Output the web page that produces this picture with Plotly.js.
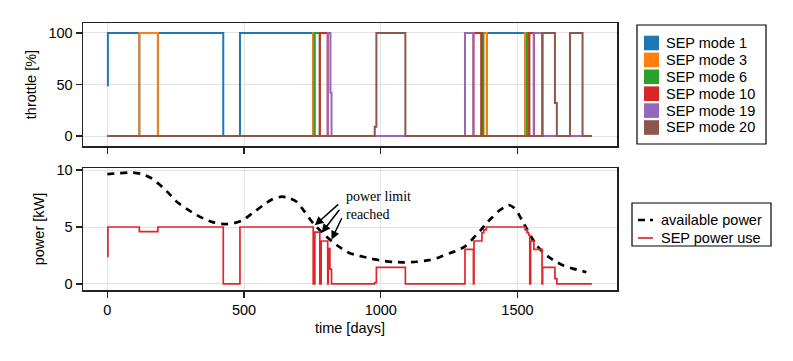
<!DOCTYPE html>
<html>
<head>
<meta charset="utf-8">
<script src="https://cdn.plot.ly/plotly-3.0.1.min.js"></script>
<style>html,body{margin:0;padding:0;background:#fff;}#chart{width:793px;height:361px;}</style>
</head>
<body>
<div id="chart"></div>
<script>
// ---- data ----
const modeNames = ["SEP mode 1", "SEP mode 3", "SEP mode 6", "SEP mode 10", "SEP mode 19", "SEP mode 20"];
const modeColors = ["#1f77b4", "#ff7f0e", "#2ca02c", "#d62728", "#9467bd", "#8c564b"];

const mode1Days = [0, 2, 117, 185, 424, 485, 753, 1388, 1528, 1772];
const mode1Thr  = [49, 100, 0, 100, 0, 100, 0, 100, 0, 0];
const mode3Days = [0, 117, 185, 753, 758, 1375, 1388, 1528, 1535, 1772];
const mode3Thr  = [0, 100, 0, 100, 0, 100, 0, 100, 0, 0];
const mode6Days = [0, 758, 777, 1368, 1375, 1535, 1543, 1772];
const mode6Thr  = [0, 100, 0, 100, 0, 100, 0, 0];
const mode10Days = [0, 777, 806, 1339, 1368, 1543, 1560, 1772];
const mode10Thr  = [0, 100, 0, 100, 0, 100, 0, 0];
const mode19Days = [0, 806, 816, 820, 1308, 1339, 1560, 1590, 1772];
const mode19Thr  = [0, 100, 42, 0, 100, 0, 100, 0, 0];
const mode20Days = [0, 978, 984, 1090, 1592, 1637, 1644, 1692, 1738, 1772];
const mode20Thr  = [0, 9, 100, 0, 100, 32, 0, 100, 0, 0];

const powerDays = [0, 2, 117, 185, 424, 485, 753, 759, 777, 782, 806, 808, 814, 820, 978, 984, 1090, 1308, 1339, 1341, 1370, 1377, 1386, 1528, 1535, 1541, 1545, 1548, 1560, 1590, 1592, 1637, 1644, 1772];
const powerKW   = [2.4, 5.0, 4.6, 5.0, 0, 5.0, 0, 4.55, 0, 3.77, 0, 3.1, 1.3, 0, 0.13, 1.46, 0, 3.04, 0, 3.77, 4.5, 4.75, 5.0, 4.75, 4.5, 4.3, 0, 3.77, 3.04, 0, 1.46, 0.47, 0, 0];

const availDays = [0, 40, 90, 127, 160, 193, 225, 254, 290, 327, 360, 388, 410, 437, 470, 497, 530, 571, 605, 637, 665, 692, 720, 753, 795, 838, 887, 911, 960, 1008, 1045, 1081, 1130, 1179, 1215, 1252, 1280, 1307, 1330, 1349, 1368, 1386, 1408, 1428, 1450, 1468, 1489, 1505, 1519, 1535, 1550, 1570, 1592, 1615, 1641, 1670, 1702, 1730, 1752];
const availKW   = [9.65, 9.72, 9.78, 9.65, 9.3, 8.68, 7.95, 7.22, 6.6, 6.05, 5.65, 5.41, 5.28, 5.26, 5.38, 5.61, 6.2, 6.93, 7.45, 7.66, 7.55, 7.22, 6.4, 5.32, 4.3, 3.42, 2.69, 2.54, 2.25, 2.02, 1.93, 1.90, 1.95, 2.1, 2.35, 2.69, 2.95, 3.27, 3.8, 4.3, 4.8, 5.32, 5.85, 6.34, 6.7, 6.93, 6.64, 6.1, 5.47, 4.8, 4.15, 3.4, 2.83, 2.35, 1.96, 1.6, 1.35, 1.18, 1.03];

const xTicks = [0, 500, 1000, 1500];
const throttleTicks = [0, 50, 100];
const powerTicks = [0, 5, 10];
const powerLegendNames = ["available power", "SEP power use"];
const annotationText = "power limit<br>reached";

// ---- layout helpers ----
const L = 83, R = 617, T = 23, B = 290;
const px = v => (v - L) / (R - L);
const py = v => (B - v) / (B - T);
const FONT = "Liberation Sans, Arial, sans-serif";
const FS = 14.5;

const modeDays = [mode1Days, mode3Days, mode6Days, mode10Days, mode19Days, mode20Days];
const modeThr = [mode1Thr, mode3Thr, mode6Thr, mode10Thr, mode19Thr, mode20Thr];

const traces = [];
modeNames.forEach((n, i) => {
  traces.push({
    type: "scatter", mode: "lines", name: n, x: modeDays[i], y: modeThr[i],
    xaxis: "x", yaxis: "y", line: {color: modeColors[i], width: 2, shape: "hv"}, showlegend: false
  });
});
traces.push({
  type: "scatter", mode: "lines", name: powerLegendNames[0], x: availDays, y: availKW,
  xaxis: "x2", yaxis: "y2", line: {color: "#000", width: 2.7, dash: "7px,6px", shape: "spline", smoothing: 0.6}, showlegend: false
});
traces.push({
  type: "scatter", mode: "lines", name: powerLegendNames[1], x: powerDays, y: powerKW,
  xaxis: "x2", yaxis: "y2", line: {color: "#e3242b", width: 1.7, shape: "hv"}, showlegend: false
});

const axisCommon = {
  showline: true, mirror: true, linecolor: "#222", linewidth: 1.5,
  ticks: "outside", ticklen: 6, tickwidth: 1.3, tickcolor: "#222",
  showgrid: true, gridcolor: "#e3e3e3", gridwidth: 1, zeroline: false,
  tickfont: {family: FONT, size: FS, color: "#000"}
};

const xRange = [-89, 1864];
const layout = {
  width: 793, height: 361,
  margin: {l: L, r: 793 - R, t: T, b: 361 - B, pad: 0},
  paper_bgcolor: "#fff", plot_bgcolor: "#fff",
  font: {family: FONT, size: FS, color: "#000"},
  showlegend: false,
  xaxis: Object.assign({}, axisCommon, {domain: [0, 1], anchor: "y", range: xRange, tickvals: xTicks, showticklabels: false}),
  yaxis: Object.assign({}, axisCommon, {domain: [py(146), 1], anchor: "x", range: [-9.7, 109.7], tickvals: throttleTicks,
    title: {text: "throttle [%]", font: {family: FONT, size: FS}, standoff: 8}}),
  xaxis2: Object.assign({}, axisCommon, {domain: [0, 1], anchor: "y2", range: xRange, tickvals: xTicks,
    title: {text: "time [days]", font: {family: FONT, size: FS}, standoff: 6}}),
  yaxis2: Object.assign({}, axisCommon, {domain: [0, py(168)], anchor: "x2", range: [-0.53, 10.18], tickvals: powerTicks,
    title: {text: "power [kW]", font: {family: FONT, size: FS}, standoff: 8}}),
  shapes: [], annotations: []
};

// top legend (modes)
layout.shapes.push({type: "rect", xref: "paper", yref: "paper", x0: px(637), x1: px(766), y0: py(144), y1: py(25),
  line: {color: "#000", width: 1.2}, fillcolor: "#fff"});
modeNames.forEach((n, i) => {
  const cy = 43 + i * 16.9;
  layout.shapes.push({type: "rect", xref: "paper", yref: "paper", x0: px(644), x1: px(659), y0: py(cy + 7.3), y1: py(cy - 7.3),
    line: {width: 0}, fillcolor: modeColors[i]});
  layout.annotations.push({xref: "paper", yref: "paper", x: px(664), y: py(cy), xanchor: "left", yanchor: "middle",
    text: n, showarrow: false, font: {family: FONT, size: FS, color: "#000"}});
});

// bottom legend (power)
layout.shapes.push({type: "rect", xref: "paper", yref: "paper", x0: px(632), x1: px(771), y0: py(246), y1: py(203),
  line: {color: "#000", width: 1.2}, fillcolor: "#fff"});
layout.shapes.push({type: "line", xref: "paper", yref: "paper", x0: px(638), x1: px(653), y0: py(220), y1: py(220),
  line: {color: "#000", width: 2.7, dash: "7px,5px"}});
layout.shapes.push({type: "line", xref: "paper", yref: "paper", x0: px(638), x1: px(653), y0: py(238), y1: py(238),
  line: {color: "#e3242b", width: 1.7}});
powerLegendNames.forEach((n, i) => {
  layout.annotations.push({xref: "paper", yref: "paper", x: px(659), y: py(220 + i * 18), xanchor: "left", yanchor: "middle",
    text: n, showarrow: false, font: {family: FONT, size: FS, color: "#000"}});
});

// "power limit reached" annotation
const SERIF = "Liberation Serif, Times New Roman, serif";
layout.annotations.push({xref: "paper", yref: "paper", x: px(344), y: py(205.5), xanchor: "left", yanchor: "middle",
  align: "left", text: annotationText, showarrow: false, font: {family: SERIF, size: 14, color: "#000"}});
const arrowTips = [[759, 5.15], [784, 4.5], [820, 3.9]];
const arrowTails = [[850, 7.1], [853, 6.64], [860, 5.9]];
arrowTips.forEach((tp, i) => {
  layout.annotations.push({xref: "x2", yref: "y2", axref: "x2", ayref: "y2",
    x: tp[0], y: tp[1], ax: arrowTails[i][0], ay: arrowTails[i][1], text: "",
    showarrow: true, arrowhead: 2, arrowsize: 1.15, arrowwidth: 1.5, arrowcolor: "#000", standoff: 0, startstandoff: 0});
});

Plotly.newPlot("chart", traces, layout, {displayModeBar: false, staticPlot: true});
</script>
</body>
</html>
